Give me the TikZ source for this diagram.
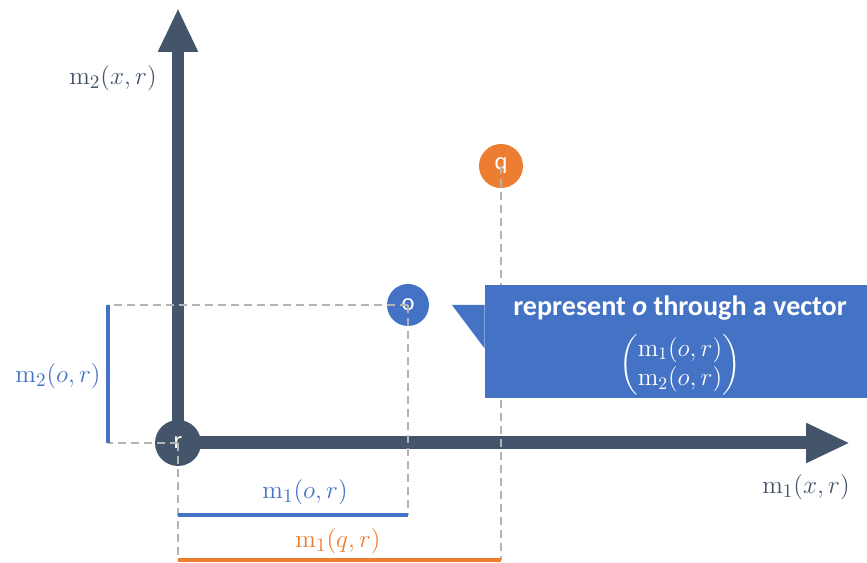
\documentclass[tikz,border=0pt]{standalone}
\usepackage{amsmath}
\usepackage[no-math]{fontspec}
\newfontfamily\calibri{Carlito}
\usetikzlibrary{arrows.meta,backgrounds}
\definecolor{cdark}{HTML}{44546A}
\definecolor{cblue}{HTML}{4472C4}
\definecolor{corange}{HTML}{ED7D31}
\definecolor{cgray}{HTML}{B4B4B4}

\begin{document}
\begin{tikzpicture}[x=0.02cm,y=-0.02cm, axis/.style={draw=cdark,line width=0.26cm,-{Triangle[length=0.88cm,width=0.74cm]}}, pt/.style={circle,inner sep=0pt,text=white,font=\calibri\fontsize{14}{16}\selectfont}, guide/.style={draw=cgray,line width=0.7pt,dash pattern=on 0.16cm off 0.1cm}, bar/.style={line width=0.08cm}, lbl/.style={font=\fontsize{15}{18}\selectfont}]
\useasboundingbox (0,0) rectangle (867,563);
% points
\node[pt,fill=cdark,minimum size=0.92cm] (r) at (178,443) {r};
\node[pt,fill=cblue,minimum size=0.84cm] (o) at (408,305) {o};
\node[pt,fill=corange,minimum size=0.88cm] (q) at (501,166) {q};
\coordinate (ytip) at (178,8);
\coordinate (xtip) at (850,443);
\begin{scope}[on background layer]
\draw[axis] (r.center)--(ytip);\draw[axis] (r.center)--(xtip);
\end{scope}
% measures
\coordinate (m2lo) at (108,443);\coordinate (m2hi) at (108,305);
\coordinate (m1oa) at (178,515);\coordinate (m1ob) at (408,515);
\coordinate (m1qa) at (178,560);\coordinate (m1qb) at (501,560);
\draw[guide] (r.center)--(m2lo);\draw[guide] (o.center)--(m2hi);\draw[guide] (r.center)--(m1qa);
\draw[guide] (o.center)--(m1ob);\draw[guide] (q.center)--(m1qb);
\draw[bar,cblue] (m2lo)--(m2hi);\draw[bar,cblue] (m1oa)--(m1ob);\draw[bar,corange] (m1qa)--(m1qb);
% labels
\node[lbl,text=cdark] (ylab) at (113,78) {$\mathrm{m}_2(x,r)$};
\node[lbl,text=cdark] (xlab) at (806,487) {$\mathrm{m}_1(x,r)$};
\node[lbl,text=cblue] (m2o) at (58,376) {$\mathrm{m}_2(o,r)$};
\node[lbl,text=cblue] (m1o) at (305,492) {$\mathrm{m}_1(o,r)$};
\node[lbl,text=corange] (m1q) at (338,541) {$\mathrm{m}_1(q,r)$};
% callout
\node[fill=cblue,minimum width=7.64cm,minimum height=2.26cm] (msg) at (676,341.5) {};
\coordinate (ptr) at (452,305);
\fill[cblue] (ptr)--(msg.west |- ptr)--([yshift=-0.14cm]msg.west)--cycle;
\node[text=white,font=\calibri\bfseries\fontsize{16}{19}\selectfont] (title) at (680,308) {represent \textit{o} through a vector};
\node[text=white,font=\fontsize{14}{17}\selectfont,inner sep=0pt] (vec) at (680,365) {$\begin{pmatrix}\mathrm{m}_1(o,r)\\ \mathrm{m}_2(o,r)\end{pmatrix}$};
\end{tikzpicture}
\end{document}
